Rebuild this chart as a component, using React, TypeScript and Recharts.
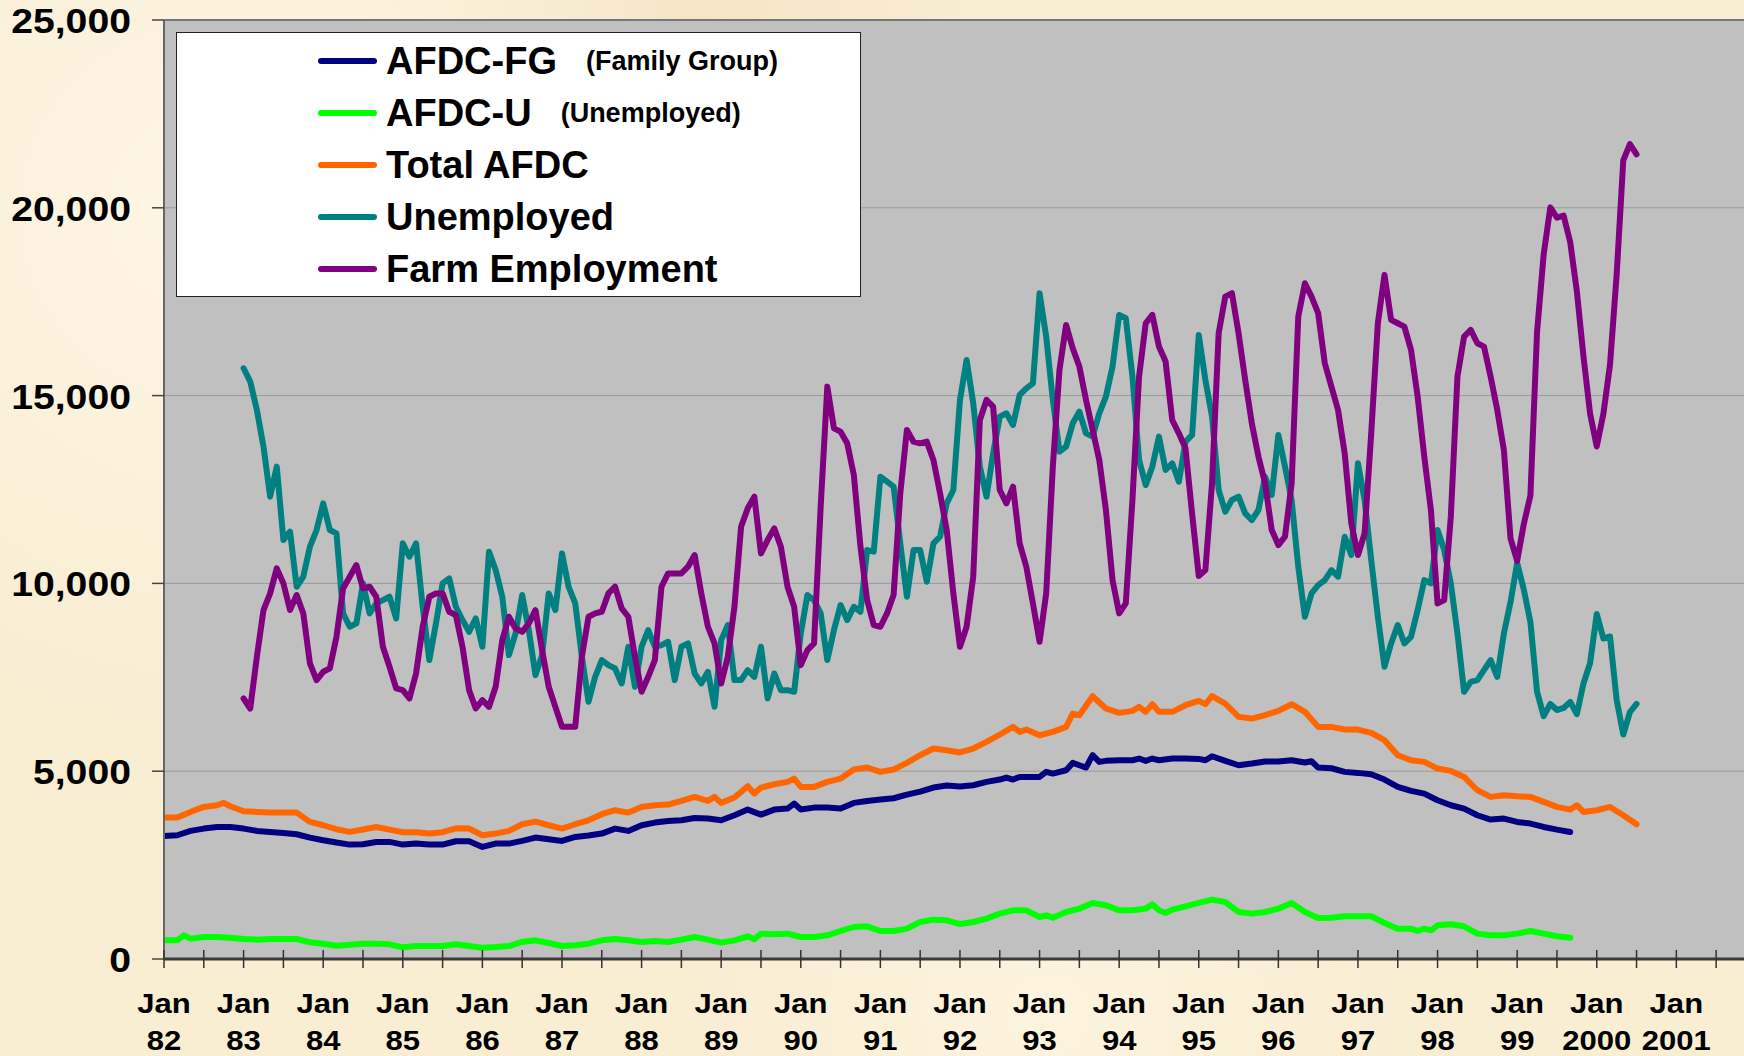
import {
  CartesianGrid,
  Legend,
  Line,
  LineChart,
  ReferenceLine,
  XAxis,
  YAxis,
} from "recharts";

const FONT = '"Liberation Sans", Arial, sans-serif';

// month index 0 = Jan 82
const yearLabels = [
  "82", "83", "84", "85", "86", "87", "88", "89", "90", "91",
  "92", "93", "94", "95", "96", "97", "98", "99", "2000", "2001",
];
const monthTicks = [
  0, 6, 12, 18, 24, 30, 36, 42, 48, 54, 60, 66, 72, 78, 84, 90, 96, 102, 108,
  114, 120, 126, 132, 138, 144, 150, 156, 162, 168, 174, 180, 186, 192, 198,
  204, 210, 216, 222, 228, 234,
];
const valueTicks = [0, 5000, 10000, 15000, 20000, 25000];

// [month, value]
const afdcFg: [number, number][] = [
  [0, 3277], [2, 3295], [4, 3410], [6, 3472], [8, 3516], [10, 3516], [12, 3472],
  [14, 3410], [16, 3384], [18, 3357], [20, 3322], [22, 3233], [24, 3162], [26, 3100],
  [28, 3046], [30, 3055], [32, 3117], [34, 3117], [36, 3046], [38, 3073], [40, 3046],
  [42, 3046], [44, 3135], [46, 3135], [48, 2984], [50, 3073], [52, 3073], [54, 3144],
  [56, 3233], [58, 3188], [60, 3144], [62, 3250], [64, 3286], [66, 3339], [68, 3472],
  [70, 3410], [72, 3561], [74, 3632], [76, 3676], [78, 3694], [80, 3756], [82, 3738],
  [84, 3694], [86, 3827], [88, 3978], [90, 3845], [92, 3978], [94, 4005], [95, 4138],
  [96, 3978], [98, 4031], [100, 4031], [102, 4005], [104, 4156], [106, 4209], [108, 4244],
  [110, 4280], [112, 4378], [114, 4458], [116, 4565], [118, 4618], [120, 4590], [122, 4626],
  [124, 4715], [126, 4777], [127, 4831], [128, 4777], [129, 4848], [130, 4848], [132, 4848],
  [133, 4982], [134, 4937], [136, 5026], [137, 5221], [138, 5159], [139, 5097], [140, 5426],
  [141, 5248], [142, 5275], [144, 5292], [146, 5292], [147, 5337], [148, 5275], [149, 5337],
  [150, 5292], [152, 5337], [154, 5337], [156, 5328], [157, 5292], [158, 5399], [160, 5275],
  [162, 5159], [164, 5204], [166, 5257], [168, 5257], [170, 5292], [172, 5230], [173, 5266],
  [174, 5097], [176, 5079], [178, 4982], [180, 4955], [182, 4919], [184, 4777], [186, 4582],
  [188, 4475], [190, 4404], [192, 4227], [194, 4094], [196, 4005], [198, 3827], [200, 3712],
  [202, 3738], [204, 3650], [206, 3605], [208, 3516], [210, 3445], [212, 3383],
];

const afdcU: [number, number][] = [
  [0, 497], [2, 497], [3, 630], [4, 542], [6, 586], [8, 586], [10, 568], [12, 533],
  [14, 515], [16, 533], [18, 533], [20, 533], [22, 444], [24, 408], [26, 355], [28, 382],
  [30, 408], [32, 408], [34, 391], [36, 311], [38, 346], [40, 346], [42, 346], [44, 391],
  [46, 346], [48, 302], [50, 320], [52, 346], [54, 453], [56, 497], [58, 426], [60, 346],
  [62, 364], [64, 408], [66, 497], [68, 533], [70, 497], [72, 453], [74, 480], [76, 453],
  [78, 515], [80, 586], [82, 515], [84, 435], [86, 497], [88, 604], [89, 524], [90, 675],
  [92, 657], [94, 675], [96, 586], [98, 586], [100, 630], [102, 746], [104, 852], [106, 870],
  [108, 746], [110, 746], [112, 808], [114, 986], [116, 1048], [118, 1030], [120, 930],
  [122, 986], [124, 1074], [126, 1208], [128, 1296], [130, 1296], [132, 1119], [133, 1163],
  [134, 1101], [136, 1252], [138, 1341], [140, 1492], [142, 1430], [144, 1296], [146, 1296],
  [148, 1341], [149, 1456], [150, 1296], [151, 1225], [152, 1314], [154, 1403], [156, 1492],
  [158, 1581], [160, 1518], [162, 1252], [164, 1208], [166, 1252], [168, 1341], [170, 1492],
  [172, 1252], [174, 1092], [176, 1101], [178, 1137], [180, 1137], [182, 1137], [184, 959],
  [186, 808], [188, 808], [189, 746], [190, 808], [191, 764], [192, 897], [194, 923],
  [196, 870], [198, 675], [200, 630], [202, 630], [204, 675], [206, 746], [208, 675],
  [210, 604], [212, 568],
];

const totalAfdc: [number, number][] = [
  [0, 3765], [2, 3765], [4, 3916], [6, 4049], [8, 4093], [9, 4156], [10, 4067], [12, 3934],
  [14, 3916], [16, 3898], [18, 3898], [20, 3898], [22, 3650], [24, 3561], [26, 3455],
  [28, 3384], [30, 3446], [32, 3516], [34, 3446], [36, 3375], [38, 3375], [40, 3339],
  [42, 3375], [44, 3481], [46, 3472], [48, 3295], [50, 3339], [52, 3410], [54, 3588],
  [56, 3659], [58, 3561], [60, 3472], [62, 3588], [64, 3694], [66, 3854], [68, 3961],
  [70, 3898], [72, 4049], [74, 4093], [76, 4111], [78, 4209], [80, 4316], [82, 4209],
  [83, 4316], [84, 4156], [86, 4298], [88, 4600], [89, 4404], [90, 4565], [92, 4653],
  [94, 4716], [95, 4804], [96, 4582], [98, 4582], [100, 4716], [102, 4804], [104, 5044],
  [106, 5098], [108, 4982], [110, 5044], [112, 5222], [114, 5426], [116, 5604], [118, 5559],
  [120, 5500], [122, 5603], [124, 5781], [126, 5976], [128, 6180], [129, 6047], [130, 6109],
  [132, 5958], [134, 6047], [136, 6180], [137, 6535], [138, 6491], [140, 6997], [142, 6669],
  [144, 6553], [146, 6607], [147, 6713], [148, 6580], [149, 6784], [150, 6580], [152, 6580],
  [154, 6757], [156, 6873], [157, 6784], [158, 6997], [160, 6802], [162, 6447], [164, 6402],
  [166, 6491], [168, 6607], [170, 6784], [172, 6580], [174, 6180], [176, 6180], [178, 6109],
  [180, 6109], [182, 6020], [184, 5825], [186, 5426], [188, 5292], [190, 5248], [192, 5070],
  [194, 5008], [196, 4848], [198, 4493], [200, 4316], [202, 4360], [204, 4333], [206, 4316],
  [208, 4182], [210, 4049], [212, 3978], [213, 4094], [214, 3916], [216, 3961], [218, 4049],
  [220, 3827], [222, 3588],
];

// monthly, from Jan 83 (month 12)
const monthlyStart = 12;

const unemployed = [
  15728, 15372, 14618, 13641, 12309, 13108, 11154, 11376, 9911, 10178, 10977, 11421,
  12131, 11421, 11332, 9200, 8846, 8934, 10000, 9200, 9467, 9556, 9645, 9068,
  11066, 10710, 11066, 9378, 7958, 8934, 10000, 10133, 9378, 9023, 8712, 9068,
  8313, 10844, 10355, 9645, 8091, 8668, 9689, 8757, 7558, 8091, 9734, 9290,
  10799, 9911, 9467, 8046, 6848, 7514, 7958, 7824, 7736, 7336, 8313, 7247,
  8313, 8757, 8313, 8357, 8446, 7425, 8313, 8402, 7602, 7336, 7647, 6714,
  8490, 8890, 7425, 7425, 7691, 7514, 8313, 6936, 7602, 7158, 7158, 7114,
  8668, 9689, 9556, 9201, 7958, 8757, 9423, 9023, 9378, 9245, 10888, 10844,
  12842, 12708, 12575, 11066, 9645, 10888, 10888, 10044, 11066, 11243, 12131, 12486,
  14884, 15950, 14795, 13108, 12309, 13463, 14440, 14529, 14218, 15017, 15195, 15328,
  17726, 16571, 14884, 13508, 13641, 14262, 14573, 13996, 13907, 14529, 14973, 15772,
  17148, 17060, 15506, 13286, 12620, 13108, 13907, 13019, 13197, 12708, 13774, 13952,
  16616, 15417, 14440, 12486, 11909, 12220, 12309, 11865, 11687, 11954, 12842, 12353,
  13952, 13108, 12220, 10444, 9112, 9734, 9956, 10089, 10355, 10178, 11243, 10755,
  13197, 12220, 10622, 9112, 7780, 8402, 8890, 8402, 8579, 9290, 10089, 10000,
  11421, 10888, 10000, 8668, 7114, 7380, 7425, 7691, 7958, 7514, 8668, 9500,
  10545, 9838, 8967, 7118, 6465, 6791, 6628, 6683, 6846, 6519, 7336, 7880,
  9185, 8532, 8587, 6900, 5976, 6574, 6791,
];

const farmEmployment = [
  6936, 6670, 8046, 9290, 9734, 10400, 10000, 9290, 9689, 9200, 7869, 7425,
  7647, 7736, 8579, 9867, 10178, 10488, 9867, 9911, 9645, 8313, 7780, 7203,
  7158, 6936, 7602, 8846, 9645, 9734, 9734, 9245, 9156, 8313, 7158, 6670,
  6892, 6714, 7247, 8490, 9112, 8801, 8712, 8934, 9290, 8224, 7247, 6714,
  6182, 6182, 6182, 8046, 9112, 9201, 9245, 9734, 9911, 9334, 9112, 8046,
  7114, 7514, 7958, 9911, 10266, 10266, 10266, 10444, 10755, 9734, 8846, 8402,
  7336, 8046, 9378, 11510, 11998, 12309, 10799, 11154, 11465, 10977, 9911, 9378,
  7824, 8224, 8402, 12042, 15239, 14129, 14040, 13730, 12886, 10977, 9556, 8890,
  8846, 9200, 9700, 12398, 14085, 13774, 13730, 13774, 13286, 12398, 11421, 9734,
  8313, 8846, 10178, 14351, 14884, 14706, 12486, 12131, 12575, 11066, 10444, 9467,
  8446, 9734, 13108, 15683, 16882, 16260, 15772, 14884, 14085, 13286, 11954, 10089,
  9201, 9467, 12220, 15506, 16926, 17148, 16305, 15906, 14351, 13996, 13597, 11850,
  10200, 10355, 12664, 16660, 17637, 17726, 16660, 15417, 14262, 13374, 12664, 11421,
  11021, 11243, 12664, 17104, 17992, 17637, 17193, 15861, 15239, 14618, 13463, 11598,
  10755, 11332, 13996, 16926, 18214, 17015, 16926, 16838, 16216, 14973, 13374, 11954,
  9467, 9556, 11776, 15506, 16571, 16749, 16394, 16305, 15506, 14618, 13552, 11200,
  10600, 11579, 12340, 16692, 18760, 20011, 19739, 19793, 19086, 17780, 16040, 14516,
  13646, 14516, 15822, 18216, 21262, 21697, 21425,
];

const legendOrder = ["AFDC-FG", "AFDC-U", "Total AFDC", "Unemployed", "Farm Employment"];
const legendNotes: Record<string, string> = {
  "AFDC-FG": "(Family Group)",
  "AFDC-U": "(Unemployed)",
};

const pairs = (rows: [number, number][]) => rows.map(([m, v]) => ({ m, v }));
const monthly = (values: number[]) =>
  values.map((v, i) => ({ m: monthlyStart + i, v }));

const withCommas = (n: number) => String(n).replace(/\B(?=(\d{3})+(?!\d))/g, ",");

function ValueTick({ x, y, payload }: any) {
  return (
    <text
      transform={`translate(${x},${y + 13}) scale(1.12,1)`}
      textAnchor="end"
      fontFamily={FONT}
      fontWeight="bold"
      fontSize={35}
      fill="#000"
    >
      {withCommas(payload.value)}
    </text>
  );
}

function MonthTick({ x, y, payload }: any) {
  const m = payload.value;
  const year = m % 12 === 0 ? yearLabels[m / 12] : null;
  const textProps = {
    textAnchor: "middle" as const,
    fontFamily: FONT,
    fontWeight: "bold",
    fontSize: 27,
    fill: "#000",
  };
  return (
    <g>
      <line x1={x} x2={x} y1={y - 9} y2={y + 9} stroke="#333" strokeWidth={1.5} />
      {year && (
        <>
          <text transform={`translate(${x},${y + 54}) scale(1.15,1)`} {...textProps}>
            Jan
          </text>
          <text transform={`translate(${x},${y + 91}) scale(1.15,1)`} {...textProps}>
            {year}
          </text>
        </>
      )}
    </g>
  );
}

function LegendBox({ payload }: any) {
  const items = [...(payload ?? [])].sort(
    (a: any, b: any) => legendOrder.indexOf(a.value) - legendOrder.indexOf(b.value)
  );
  return (
    <div
      style={{
        width: 685,
        height: 265,
        boxSizing: "border-box",
        background: "#fff",
        border: "1.5px solid #222",
        paddingTop: 2,
      }}
    >
      {items.map((item: any) => (
        <div
          key={item.value}
          style={{ height: 52, display: "flex", alignItems: "center" }}
        >
          <span
            style={{
              marginLeft: 141,
              width: 59,
              height: 6,
              borderRadius: 3,
              background: item.color,
              display: "inline-block",
            }}
          />
          <span
            style={{
              marginLeft: 9,
              fontFamily: FONT,
              fontWeight: "bold",
              fontSize: 38,
              color: "#000",
            }}
          >
            {item.value}
          </span>
          {legendNotes[item.value] && (
            <span
              style={{
                marginLeft: 29,
                fontFamily: FONT,
                fontWeight: "bold",
                fontSize: 27,
                color: "#000",
              }}
            >
              {legendNotes[item.value]}
            </span>
          )}
        </div>
      ))}
    </div>
  );
}

const lineStyle = {
  type: "linear" as const,
  dataKey: "v",
  dot: false,
  activeDot: false,
  isAnimationActive: false,
  strokeWidth: 6,
  strokeLinejoin: "round" as const,
  strokeLinecap: "round" as const,
};

export default function App() {
  return (
    <div
      style={{
        position: "absolute",
        left: 0,
        top: 0,
        width: 1744,
        height: 1056,
        background:
          "radial-gradient(circle at 12% 20%, rgba(255,250,236,0.7), transparent 30%)," +
          "radial-gradient(circle at 60% 96%, rgba(255,248,230,0.6), transparent 25%)," +
          "radial-gradient(circle at 40% 3%, rgba(240,222,186,0.5), transparent 20%)," +
          "#F9EDD2",
      }}
    >
      <LineChart
        width={1744}
        height={1056}
        margin={{ top: 20, right: 0, bottom: 0, left: 0 }}
      >
        <CartesianGrid vertical={false} stroke="#9a9a9a" fill="#C0C0C0" />
        <XAxis
          dataKey="m"
          type="number"
          domain={[0, 238.2]}
          ticks={monthTicks}
          interval={0}
          height={97}
          tickLine={false}
          tickSize={0}
          tickMargin={0}
          tick={<MonthTick />}
          axisLine={{ stroke: "#3a3a3a", strokeWidth: 3 }}
          allowDataOverflow
        />
        <YAxis
          type="number"
          domain={[0, 25000]}
          ticks={valueTicks}
          width={164}
          tickSize={12}
          tickMargin={21}
          tickLine={{ stroke: "#444", strokeWidth: 1.5 }}
          tick={<ValueTick />}
          axisLine={{ stroke: "#666", strokeWidth: 2 }}
        />
        <ReferenceLine y={25000} stroke="#777" strokeWidth={2} />
        <Legend
          layout="vertical"
          align="center"
          verticalAlign="middle"
          wrapperStyle={{ left: 176, top: 32, width: 685, height: 265 }}
          content={<LegendBox />}
        />
        <Line {...lineStyle} data={pairs(afdcFg)} name="AFDC-FG" stroke="#000080" />
        <Line {...lineStyle} data={pairs(afdcU)} name="AFDC-U" stroke="#00FF00" />
        <Line {...lineStyle} data={pairs(totalAfdc)} name="Total AFDC" stroke="#FF6600" />
        <Line {...lineStyle} data={monthly(unemployed)} name="Unemployed" stroke="#008080" />
        <Line
          {...lineStyle}
          data={monthly(farmEmployment)}
          name="Farm Employment"
          stroke="#800080"
        />
      </LineChart>
    </div>
  );
}
